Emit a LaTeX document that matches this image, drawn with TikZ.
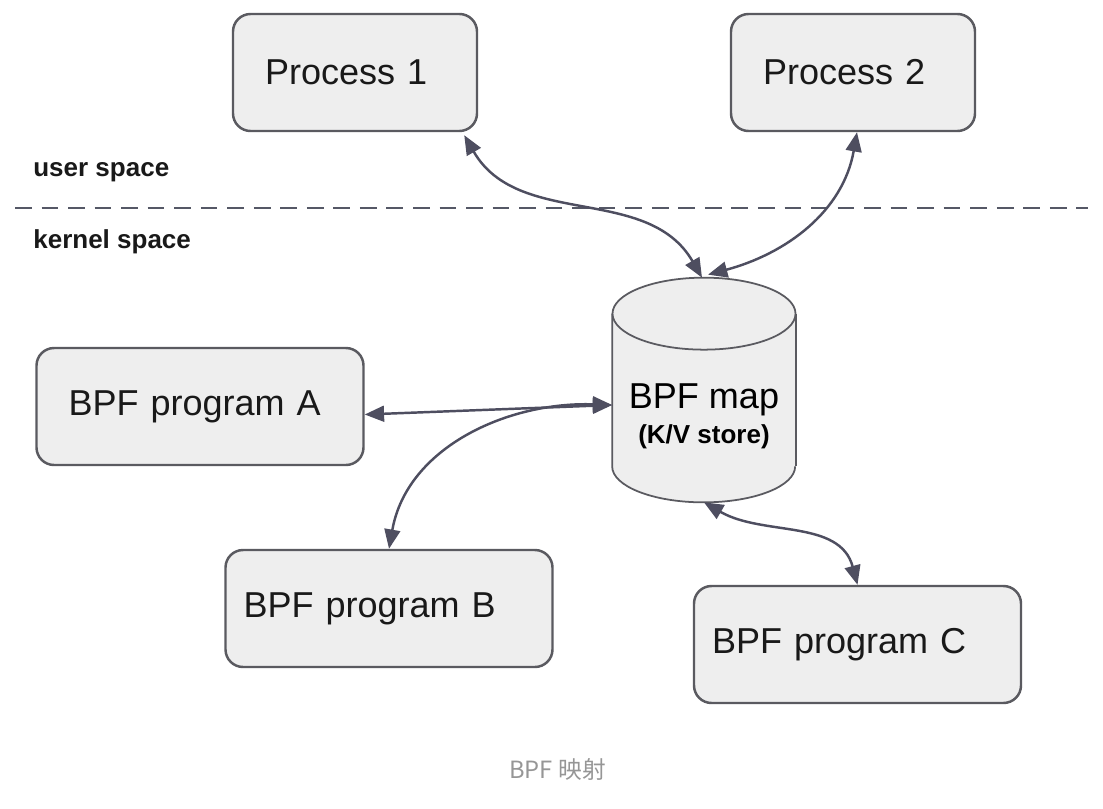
\documentclass[tikz,border=0pt]{standalone}
\usepackage{fontspec}
\setmainfont{Liberation Sans}
\newfontfamily\cjk{Noto Sans CJK SC}
\usepackage{tikz}
\usetikzlibrary{shapes.geometric, arrows, arrows.meta, positioning, backgrounds}
\definecolor{boxfill}{RGB}{238,238,238}
\definecolor{boxline}{RGB}{90,90,96}
\definecolor{arrowgray}{RGB}{78,78,96}
\definecolor{dashgray}{RGB}{85,88,102}
\definecolor{captiongray}{RGB}{150,150,150}
\tikzstyle{process} = [rectangle, rounded corners=10pt, minimum width=4.88cm, minimum height=2.34cm, text width=3.60cm, align=left, inner xsep=0pt, draw=boxline, line width=1.4pt, fill=boxfill, text=black!90, font=\fontsize{20.5}{24}\selectfont]
\tikzstyle{program} = [process, minimum width=6.54cm, text width=5.26cm]
\tikzstyle{kvmap} = [rectangle, minimum width=3.66cm, minimum height=4.48cm, inner sep=0pt]
\tikzstyle{mapline} = [draw=boxline, line width=1pt]
\tikzstyle{arrow} = [line width=1.4pt, draw=arrowgray, {Triangle[length=11pt, width=9pt]}-{Triangle[length=11pt, width=9pt]}]
\tikzstyle{divider} = [dash pattern=on 9.5pt off 5.6pt, line width=1.7pt, draw=dashgray]
\tikzstyle{spacelabel} = [inner sep=0pt, anchor=west, text=black!90, font=\bfseries\fontsize{14.8}{17}\selectfont]

\begin{document}
\begin{tikzpicture}[node distance=1.5cm]
\useasboundingbox (0,0) rectangle (22.06,-16.16);

\node (p1) [process] at (7.10,-1.45) {Process 1};
\node (p2) [process, right of=p1, xshift=8.46cm] {Process 2};
\node (map) [kvmap, below of=p2, xshift=-2.98cm, yshift=-4.85cm,
  label={[align=center, yshift=-0.52cm]center:{\fontsize{20.5}{24}\selectfont BPF map\\[4pt]\bfseries\fontsize{14.8}{17}\selectfont (K/V store)}}] {};
\node (progA) [program, left of=map, xshift=-8.58cm, yshift=-0.33cm] {BPF program A};
\node (progB) [program, below of=progA, xshift=3.78cm, yshift=-2.54cm, text width=5.82cm] {BPF program B};
\node (progC) [program, right of=progB, xshift=7.87cm, yshift=-0.72cm, text width=5.82cm] {BPF program C};

% cylinder of the map: fill under its text, outline on top
\begin{pgfonlayer}{background}
\fill [white] (0,0) rectangle (22.06,-16.16);
\fill [boxfill] ([yshift=-0.72cm]map.north west) rectangle ([yshift=0.72cm]map.south east);
\fill [boxfill] ([yshift=0.72cm]map.south) ellipse [x radius=1.83cm, y radius=0.72cm];
\end{pgfonlayer}
\draw [mapline] ([yshift=0.72cm]map.south east) -- ([yshift=-0.72cm]map.north east);
\draw [mapline] ([yshift=-0.72cm]map.north west) -- ([yshift=0.72cm]map.south west)
  arc [start angle=180, end angle=360, x radius=1.83cm, y radius=0.72cm];
\draw [mapline, fill=boxfill] ([yshift=-0.72cm]map.north) ellipse [x radius=1.83cm, y radius=0.72cm];

\node (user) [spacelabel] at (0.66,-3.44) {user space};
\node (kernel) [spacelabel] at (0.66,-4.84) {kernel space};
\coordinate (divL) at (0.30,-4.16);
\coordinate (divR) at (21.76,-4.16);
\draw [divider] (divL) -- (divR);

\draw [arrow] ([xshift=-0.28cm, yshift=-0.06cm]p1.south east) to[out=-60, in=120] ([xshift=-0.04cm]map.north);
\draw [arrow] ([xshift=0.08cm]p2.south) to[out=-100, in=15] ([xshift=0.08cm, yshift=0.06cm]map.north);
\draw [arrow] ([yshift=-0.16cm]progA.east) -- ([yshift=-0.3cm]map.west);
\draw [arrow] ([yshift=-0.3cm]map.west) to[out=178, in=80] (progB.north);
\draw [arrow] (map.south) to[out=-30, in=105] (progC.north);

\node (caption) [text=captiongray, font=\cjk\fontsize{13.5}{16}\selectfont] at (11.15,-15.38) {BPF 映射};

\end{tikzpicture}
\end{document}
